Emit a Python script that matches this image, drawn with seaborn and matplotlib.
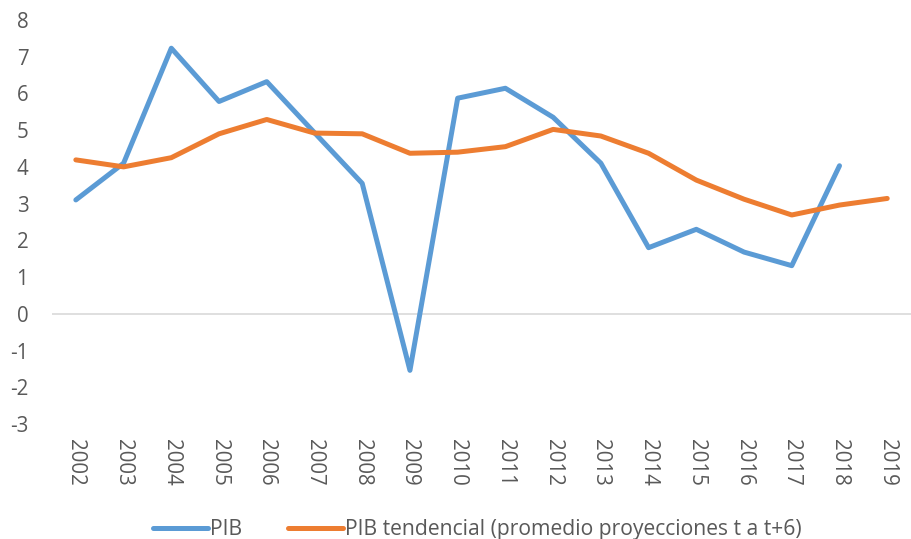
import numpy as np
import pandas as pd
import seaborn as sns
import matplotlib.pyplot as plt

# Data
years = [str(y) for y in range(2002, 2020)]
pib = [3.10, 4.10, 7.23, 5.78, 6.32, 4.93, 3.55, -1.54, 5.87, 6.14, 5.35,
       4.10, 1.80, 2.30, 1.68, 1.31, 4.03, np.nan]
pib_tend = [4.19, 4.00, 4.25, 4.90, 5.29, 4.92, 4.90, 4.37, 4.40, 4.55, 5.02,
            4.84, 4.37, 3.64, 3.12, 2.69, 2.96, 3.14]

name1 = 'PIB'
name2 = 'PIB tendencial (promedio proyecciones t a t+6)'

df = pd.DataFrame({
    'year': years * 2,
    'value': pib + pib_tend,
    'serie': [name1] * len(years) + [name2] * len(years),
})
df = df.dropna()

sns.set_style('white')
plt.rcParams['font.family'] = ['Open Sans', 'DejaVu Sans']
plt.rcParams['axes.unicode_minus'] = False

fig, ax = plt.subplots(figsize=(9.12, 5.39), dpi=100)
fig.subplots_adjust(left=0.057, right=0.999, top=0.963, bottom=0.2134)

sns.lineplot(data=df, x='year', y='value', hue='serie',
             palette={name1: '#5B9BD5', name2: '#ED7D31'},
             linewidth=3.6, ax=ax, sort=False)

# zero line
ax.axhline(0, color='#D9D9D9', linewidth=1.2, zorder=0)

ax.set_xlim(-0.5, len(years) - 0.5)
ax.set_ylim(-3, 8)
ax.set_yticks(range(-3, 9))
ax.set_xlabel('')
ax.set_ylabel('')
for s in ax.spines.values():
    s.set_visible(False)

ax.tick_params(axis='y', length=0, pad=17, labelsize=14.8, labelcolor='#595959')
ax.tick_params(axis='x', length=0, pad=11, labelsize=14.8, labelcolor='#595959')
plt.setp(ax.get_xticklabels(), rotation=-90)

ax.legend(loc='center', bbox_to_anchor=(0.495, -0.262), bbox_transform=ax.transAxes,
          ncol=2, frameon=False, fontsize=15.2, labelcolor='#595959',
          handlelength=2.6, handletextpad=0.1, columnspacing=2.2)
for line in ax.get_legend().get_lines():
    line.set_linewidth(3.6)

plt.savefig('out.png', dpi=100)
